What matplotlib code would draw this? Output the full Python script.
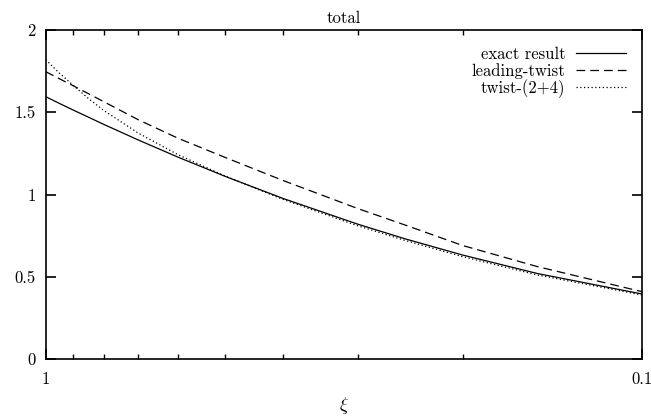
import matplotlib
matplotlib.use("Agg")
import matplotlib.pyplot as plt

# curves (x axis: xi, log scale, decreasing)
xi = [1.0, 0.95, 0.9, 0.85, 0.8, 0.7, 0.6, 0.5, 0.4, 0.3, 0.25, 0.2, 0.15, 0.1]
exact = [1.595, 1.555, 1.514, 1.472, 1.427, 1.332, 1.227, 1.110, 0.976, 0.820, 0.731, 0.632, 0.520, 0.395]
leading = [1.747, 1.705, 1.662, 1.615, 1.565, 1.455, 1.342, 1.225, 1.085, 0.915, 0.815, 0.690, 0.562, 0.409]
twist24 = [1.820, 1.740, 1.665, 1.587, 1.512, 1.374, 1.242, 1.112, 0.970, 0.810, 0.721, 0.622, 0.511, 0.389]

yticks = [0, 0.5, 1, 1.5, 2]
ytick_labels = ["0", "0.5", "1", "1.5", "2"]

plt.rcParams["font.family"] = ["cmr10", "DejaVu Serif"]
plt.rcParams["mathtext.fontset"] = "cm"
plt.rcParams["font.size"] = 12

fig = plt.figure(figsize=(6.51, 4.18), dpi=100)
ax = fig.add_axes([0.0702, 0.1411, 0.9164, 0.7871])

ax.plot(xi, exact, color="black", lw=0.9, label="exact result")
ax.plot(xi, leading, color="black", lw=0.9, dashes=(7, 4), label="leading-twist")
ax.plot(xi, twist24, color="black", lw=0.9, dashes=(1, 2), label="twist-(2+4)")

ax.set_xscale("log")
ax.set_xlim(1, 0.1)
ax.set_ylim(0, 2)

ax.set_xticks([1, 0.1])
ax.set_xticklabels(["1", "0.1"])
ax.set_xticks([0.9, 0.8, 0.7, 0.6, 0.5, 0.4, 0.3, 0.2], minor=True)
ax.set_xticklabels([], minor=True)
ax.set_yticks(yticks)
ax.set_yticklabels(ytick_labels)

ax.tick_params(which="major", direction="in", length=7, width=1.2, top=True, right=True)
ax.tick_params(which="minor", direction="in", length=3.5, width=1.0, top=True, right=True)
ax.tick_params(axis="x", which="major", pad=9)
ax.tick_params(axis="y", which="major", pad=7)
for s in ax.spines.values():
    s.set_linewidth(1.2)

ax.set_title("total", fontsize=12, pad=5)
ax.set_xlabel(r"$\xi$", fontsize=13, labelpad=6)

ax.legend(loc="upper right", frameon=False, markerfirst=False, handlelength=3.0,
          labelspacing=0.05, handletextpad=0.6, borderaxespad=0.6, fontsize=12)

fig.savefig("out.png", dpi=100)
